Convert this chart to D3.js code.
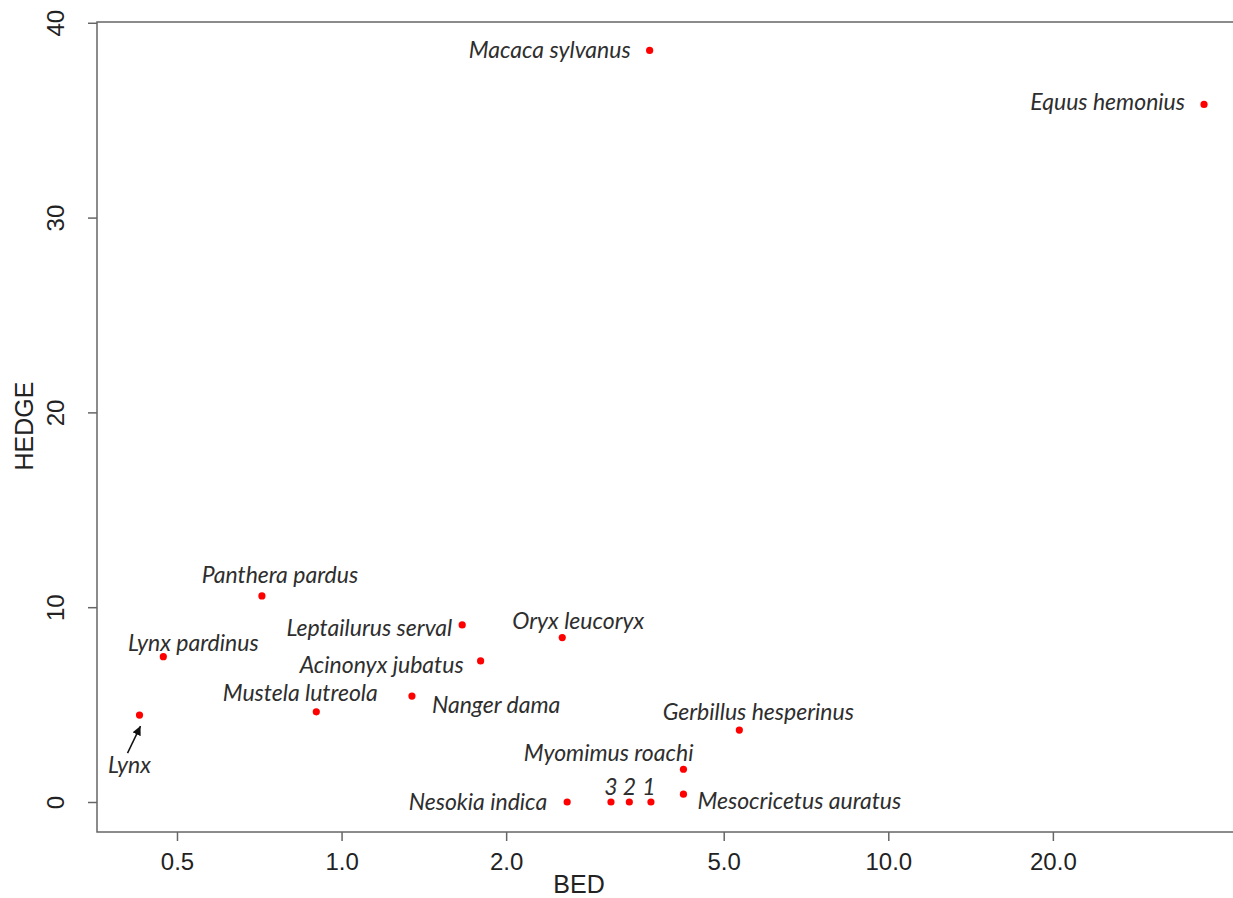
<!DOCTYPE html>
<html>
<head>
<meta charset="utf-8">
<script src="https://cdn.jsdelivr.net/npm/d3@7"></script>
<style>
  body { margin: 0; background: #fff; }
  svg { display: block; }
  .sp { font-family: Lato, "Open Sans", sans-serif; font-style: italic; font-size: 23px; fill: #2e2e2e; }
  .tick text { font-family: "Liberation Sans", Arial, sans-serif; font-size: 24px; fill: #222; }
  .ttl { font-family: "Liberation Sans", Arial, sans-serif; font-size: 25px; fill: #222; }
</style>
</head>
<body>
<div id="chart"></div>
<script>
// species, BED (x, log scale) and HEDGE (y)
const species = [
  'Macaca sylvanus', 'Equus hemonius', 'Panthera pardus', 'Lynx pardinus', 'Lynx',
  'Mustela lutreola', 'Leptailurus serval', 'Oryx leucoryx', 'Acinonyx jubatus', 'Nanger dama',
  'Gerbillus hesperinus', 'Myomimus roachi', 'Mesocricetus auratus', 'Nesokia indica', '3', '2', '1'
];
const bed = [3.66, 37.8, 0.715, 0.472, 0.427, 0.899, 1.662, 2.533, 1.796, 1.345, 5.34, 4.22, 4.22, 2.586, 3.11, 3.36, 3.68];
const hedge = [38.58, 35.81, 10.58, 7.46, 4.46, 4.63, 9.09, 8.44, 7.24, 5.44, 3.69, 1.68, 0.4, 0, 0, 0, 0];

const xTicks = [0.5, 1, 2, 5, 10, 20];
const yTicks = [0, 10, 20, 30, 40];

// label placement: [text-anchor, dx, dy] relative to the point
const labelPlace = [
  ['end', -19, 0], ['end', -19, -2], ['middle', 18, -21], ['middle', 30, -14], null,
  ['middle', -16, -19], ['end', -10, 3], ['middle', 16, -17], ['end', -17, 4], ['start', 20, 9],
  ['middle', 19, -18], ['end', 10, -16], ['start', 14, 7], ['end', -20, 0],
  ['middle', 0, -15], ['middle', 0, -15], ['middle', -2, -15]
];

const W = 1233, H = 898;
const pLeft = 97, pTop = 22, pRight = 1247, pBottom = 832;

const svg = d3.select('#chart').append('svg')
  .attr('width', W)
  .attr('height', H);

const x = d3.scaleLog().domain([0.357, 45.3]).range([pLeft, pRight]);
const y = d3.scaleLinear().domain([-1.54, 40.04]).range([pBottom, pTop]);

// frame
svg.append('rect')
  .attr('x', pLeft).attr('y', pTop)
  .attr('width', pRight - pLeft).attr('height', pBottom - pTop)
  .attr('fill', 'none').attr('stroke', '#666').attr('stroke-width', 1.5);

const gx = svg.append('g')
  .attr('transform', `translate(0,${pBottom})`)
  .call(d3.axisBottom(x).tickValues(xTicks).tickFormat(d3.format('.1f')).tickSize(9));
gx.select('.domain').remove();
gx.selectAll('.tick line').attr('stroke', '#666').attr('stroke-width', 1.5);
gx.selectAll('.tick text').attr('y', 30).attr('dy', '0.35em');

const gy = svg.append('g')
  .attr('transform', `translate(${pLeft},0)`)
  .call(d3.axisLeft(y).tickValues(yTicks).tickSize(9));
gy.select('.domain').remove();
gy.selectAll('.tick line').attr('stroke', '#666').attr('stroke-width', 1.5);
gy.selectAll('.tick text')
  .attr('x', null).attr('dy', null)
  .attr('text-anchor', 'middle')
  .attr('transform', 'translate(-33,0) rotate(-90)');

svg.append('text').attr('class', 'ttl')
  .attr('x', 579).attr('y', 884).attr('dy', '0.35em')
  .attr('text-anchor', 'middle').text('BED');

svg.append('text').attr('class', 'ttl')
  .attr('transform', 'translate(24,426) rotate(-90)')
  .attr('dy', '0.35em')
  .attr('text-anchor', 'middle').text('HEDGE');

const pts = species.map((s, i) => ({ name: s, bed: bed[i], hedge: hedge[i], place: labelPlace[i] }));

svg.selectAll('.dot')
  .data(pts)
  .enter()
  .append('circle')
  .attr('class', 'dot')
  .attr('cx', d => x(d.bed))
  .attr('cy', d => y(d.hedge))
  .attr('r', 3.6)
  .attr('fill', '#ff0000');

svg.selectAll('.sp')
  .data(pts.filter(d => d.place))
  .enter()
  .append('text')
  .attr('class', 'sp')
  .attr('x', d => x(d.bed) + d.place[1])
  .attr('y', d => y(d.hedge) + d.place[2])
  .attr('dy', '0.35em')
  .attr('text-anchor', d => d.place[0])
  .text(d => d.name);

// Lynx: label below with an arrow pointing up to the point
svg.append('defs').append('marker')
  .attr('id', 'head')
  .attr('viewBox', '0 -5 10 10')
  .attr('refX', 10).attr('refY', 0)
  .attr('markerWidth', 6).attr('markerHeight', 6)
  .attr('orient', 'auto')
  .append('path')
  .attr('d', 'M0,-5L10,0L0,5Z')
  .attr('fill', '#111');

const lynx = pts.find(d => d.name === 'Lynx');
const lx = x(lynx.bed), ly = y(lynx.hedge);
svg.append('line')
  .attr('x1', lx - 12).attr('y1', ly + 38)
  .attr('x2', lx + 1).attr('y2', ly + 11)
  .attr('stroke', '#111').attr('stroke-width', 1.5)
  .attr('marker-end', 'url(#head)');
svg.append('text').attr('class', 'sp')
  .attr('x', lx - 10).attr('y', ly + 50).attr('dy', '0.35em')
  .attr('text-anchor', 'middle')
  .text(lynx.name);
</script>
</body>
</html>
